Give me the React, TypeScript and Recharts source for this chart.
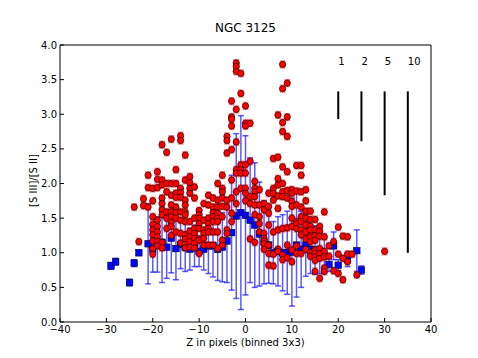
import {
  ScatterChart,
  Scatter,
  XAxis,
  YAxis,
  ErrorBar,
  ReferenceLine,
  Label,
} from "recharts";

// blue squares (binned means) with their error bars
const blueX = [-29, -28, -25, -24, -23, -21, -20, -19, -18, -17, -16, -15, -14, -13, -12, -11, -10, -9, -8, -7, -6, -5, -4, -3, -2, -1, 0, 1, 2, 3, 4, 5, 6, 7, 8, 9, 10, 11, 12, 13, 14, 15, 16, 17, 18, 19, 20, 22, 24, 25];
const blueY = [0.81, 0.87, 0.57, 0.85, 1.0, 1.13, 1.05, 1.12, 1.15, 1.08, 1.21, 1.06, 1.12, 1.08, 1.05, 1.1, 1.02, 1.05, 1.1, 1.1, 1.05, 1.08, 1.17, 1.29, 1.53, 1.58, 1.54, 1.47, 1.4, 1.27, 1.15, 1.11, 1.0, 1.02, 1.0, 1.0, 1.01, 1.11, 1.05, 1.11, 1.05, 1.04, 1.0, 0.95, 0.83, 1.1, 0.82, 0.9, 1.03, 0.75];
const blueErr = [0.05, 0.05, 0.05, 0.05, 0.04, 0.58, 0.33, 0.4, 0.58, 0.45, 0.5, 0.45, 0.35, 0.35, 0.3, 0.3, 0.22, 0.3, 0.4, 0.45, 0.45, 0.5, 0.6, 0.83, 1.19, 1.4, 1.15, 0.9, 0.9, 0.75, 0.6, 0.55, 0.45, 0.5, 0.55, 0.6, 0.78, 0.75, 0.55, 0.45, 0.35, 0.35, 0.3, 0.25, 0.1, 0.2, 0.08, 0.1, 0.3, 0.06];

// red circles: one column of ratios per pixel position
const redX = [-24, -23, -22, -21, -20, -19, -18, -17, -16, -15, -14, -13, -12, -11, -10, -9, -8, -7, -6, -5, -4, -3, -2, -1, 0, 1, 2, 3, 4, 5, 6, 7, 8, 9, 10, 11, 12, 13, 14, 15, 16, 17, 18, 19, 20, 21, 22, 23, 24, 30];
const redYs = [
  [1.66],
  [1.16],
  [1.78, 1.68],
  [2.12, 1.94, 1.66],
  [1.93, 1.75, 1.52, 1.41, 1.33, 1.26, 1.17, 1.06, 0.98],
  [2.17, 2.06, 1.94, 1.47, 1.38, 1.3, 1.23, 1.16, 1.1],
  [2.56, 2.05, 1.98, 1.79, 1.71, 1.62, 1.55, 1.15, 1.07],
  [2.45, 2.0, 1.88, 1.59, 1.5, 1.35],
  [2.64, 2.0, 1.83, 1.69, 1.59, 1.52, 1.44, 1.38, 1.25],
  [2.2, 2.0, 1.86, 1.8, 1.66, 1.58, 1.5, 1.3],
  [2.69, 2.62, 1.93, 1.87, 1.8, 1.59, 1.47, 1.28, 1.14],
  [2.41, 2.05, 1.76, 1.69, 1.59, 1.55, 1.45, 1.26, 1.2, 1.12, 1.07],
  [2.1, 2.01, 1.93, 1.86, 1.45, 1.31, 1.23, 1.16, 1.08],
  [1.95, 1.79, 1.5, 1.35, 1.28, 1.21, 1.14, 1.07],
  [1.61, 1.55, 1.5, 1.42, 1.35, 1.2, 1.18, 0.99],
  [1.71, 1.47, 1.33, 1.28, 1.21, 1.11],
  [1.83, 1.69, 1.5, 1.42, 1.35, 1.3, 1.11],
  [1.79, 1.66, 1.58, 1.52, 1.45, 1.3, 1.11],
  [2.0, 1.76, 1.66, 1.57, 1.5, 1.45, 1.3, 1.06],
  [2.12, 1.93, 1.88, 1.79, 1.67, 1.52, 1.18, 1.11],
  [2.68, 2.62, 2.44, 1.76, 1.66, 1.33, 1.28],
  [3.19, 2.96, 2.93, 2.83, 2.49, 2.05, 1.79, 1.57, 1.45],
  [3.74, 3.69, 3.62, 3.07, 2.6, 2.2, 2.15, 1.88, 1.71],
  [3.59, 3.3, 2.27, 2.2, 2.15, 1.93],
  [3.12, 2.87, 2.83, 2.27, 2.15, 1.93, 1.86, 1.75],
  [2.87, 2.32, 1.81, 1.71, 1.2],
  [2.03, 1.93, 1.88, 1.81, 1.69, 1.55, 1.15],
  [1.91, 1.69, 1.52, 1.42, 1.3],
  [1.71, 1.62, 1.28, 1.21, 1.17, 1.13, 1.05],
  [1.86, 1.67, 1.57, 1.4, 1.11, 0.99, 0.82],
  [2.36, 1.93, 1.86, 1.76, 1.3, 0.98, 0.81],
  [2.99, 2.38, 2.07, 1.98, 1.82, 1.64, 1.33, 1.05, 1.02],
  [3.72, 3.37, 2.88, 2.75, 2.24, 2.0, 1.88, 1.81, 1.35, 0.97, 0.9],
  [3.45, 2.96, 2.68, 2.17, 1.9, 1.79, 1.36, 1.11, 0.93],
  [1.91, 1.86, 1.74, 1.67, 1.5, 1.38, 1.04, 0.87],
  [2.26, 1.89, 1.69, 1.45, 1.42, 1.35, 1.1, 0.99],
  [2.26, 2.12, 1.88, 1.66, 1.52, 1.45, 1.33, 1.26, 0.99],
  [1.91, 1.75, 1.6, 1.5, 1.4, 1.3, 1.2, 1.05],
  [1.6, 1.48, 1.38, 1.33, 1.23, 1.16, 1.0, 0.95],
  [1.48, 1.33, 1.25, 1.18, 1.04, 0.99, 0.94, 0.89, 0.73],
  [1.38, 1.31, 1.24, 1.06, 0.99, 0.92, 0.63],
  [1.59, 1.23, 1.02, 0.94, 0.78, 0.73],
  [1.1, 0.95],
  [1.16, 0.74],
  [1.37, 0.98, 0.7],
  [1.24, 0.92, 0.61],
  [1.23, 0.98, 0.87],
  [0.98],
  [0.68],
  [1.02],
];
const redErr = 0.05;

// vertical scale bars in the upper right
const barX = [20, 25, 30, 35];
const barTop = [3.33, 3.33, 3.33, 3.33];
const barBottom = [2.93, 2.61, 1.83, 1.0];
const barLabels = ["1", "2", "5", "10"];
const barLabelY = 3.77;

const xTicks = [-40, -30, -20, -10, 0, 10, 20, 30, 40];
const yTicks = [0, 0.5, 1, 1.5, 2, 2.5, 3, 3.5, 4];

const FONT = "DejaVu Sans";

const blueData = blueX.map((x, i) => ({ x, y: blueY[i], e: blueErr[i] }));
const redData = redX.flatMap((x, i) => redYs[i].map((y) => ({ x, y, e: redErr })));
const labelData = barX.map((x, i) => ({ x, y: barLabelY, t: barLabels[i] }));

const fmtX = (v: number) => (v < 0 ? "\u2212" + Math.abs(v) : String(v));

const Square = (p: any) => (
  <rect x={p.cx - 3.3} y={p.cy - 3.3} width={6.6} height={6.6} fill="#0000ff" stroke="#000" strokeWidth={0.5} />
);
const Dot = (p: any) => (
  <circle cx={p.cx} cy={p.cy} r={3.2} fill="#ff0000" stroke="#000" strokeWidth={0.6} />
);
const BarText = (p: any) => (
  <text x={p.cx} y={p.cy} dy="0.36em" fontSize={10} fontFamily={FONT} fill="#000">
    {p.payload.t}
  </text>
);

export default function App() {
  return (
    <div style={{ position: "absolute", left: 0, top: 0, background: "#fff" }}>
      <ScatterChart width={478} height={358} margin={{ top: 44, right: 46, bottom: 6, left: 0 }}>
        <XAxis
          type="number"
          dataKey="x"
          domain={[-40, 40]}
          ticks={xTicks}
          interval={0}
          allowDataOverflow
          height={30}
          tickSize={-4}
          tickMargin={8}
          tickFormatter={fmtX}
          stroke="#000"
          tick={{ fontSize: 10, fill: "#000", fontFamily: FONT }}
        >
          <Label
            value="Z in pixels (binned 3x3)"
            position="insideBottom"
            offset={6}
            fontSize={10}
            fontFamily={FONT}
            fill="#000"
          />
        </XAxis>
        <XAxis
          xAxisId="top"
          orientation="top"
          type="number"
          dataKey="x"
          domain={[-40, 40]}
          ticks={xTicks}
          interval={0}
          allowDataOverflow
          height={1}
          tickSize={-4}
          tick={false}
          stroke="#000"
        >
          <Label value="NGC 3125" position="top" offset={12} fontSize={12} fontFamily={FONT} fill="#000" />
        </XAxis>
        <YAxis
          type="number"
          dataKey="y"
          domain={[0, 4]}
          ticks={yTicks}
          interval={0}
          allowDataOverflow
          width={60}
          tickSize={-4}
          tickMargin={7}
          tickFormatter={(v: number) => v.toFixed(1)}
          stroke="#000"
          tick={{ fontSize: 10, fill: "#000", fontFamily: FONT }}
        >
          <Label
            content={(p: any) => {
              const vb = p.viewBox;
              const cx = vb.x + 33;
              const cy = vb.y + vb.height / 2 - 3;
              return (
                <text
                  x={cx}
                  y={cy}
                  transform={`rotate(-90 ${cx} ${cy})`}
                  textAnchor="middle"
                  dy="0.36em"
                  fontSize={10}
                  fontFamily={FONT}
                  fill="#000"
                >
                  [S III]/[S II]
                </text>
              );
            }}
          />
        </YAxis>
        <YAxis
          yAxisId="right"
          orientation="right"
          type="number"
          dataKey="y"
          domain={[0, 4]}
          ticks={yTicks}
          interval={0}
          allowDataOverflow
          width={1}
          tickSize={-4}
          tick={false}
          stroke="#000"
        />

        <Scatter data={blueData} shape={Square} isAnimationActive={false}>
          <ErrorBar dataKey="e" direction="y" width={3} stroke="#0000ff" strokeOpacity={0.65} strokeWidth={1.5} />
        </Scatter>
        <Scatter data={redData} shape={Dot} isAnimationActive={false}>
          <ErrorBar dataKey="e" direction="y" width={3} stroke="#ff0000" strokeOpacity={0.45} strokeWidth={1.4} />
        </Scatter>

        {barX.map((x, i) => (
          <ReferenceLine
            key={x}
            segment={[
              { x, y: barBottom[i] },
              { x, y: barTop[i] },
            ]}
            stroke="#000"
            strokeWidth={2}
          />
        ))}
        <Scatter
          data={labelData}
          xAxisId="top"
          yAxisId="right"
          shape={BarText}
          isAnimationActive={false}
        />
      </ScatterChart>
    </div>
  );
}
